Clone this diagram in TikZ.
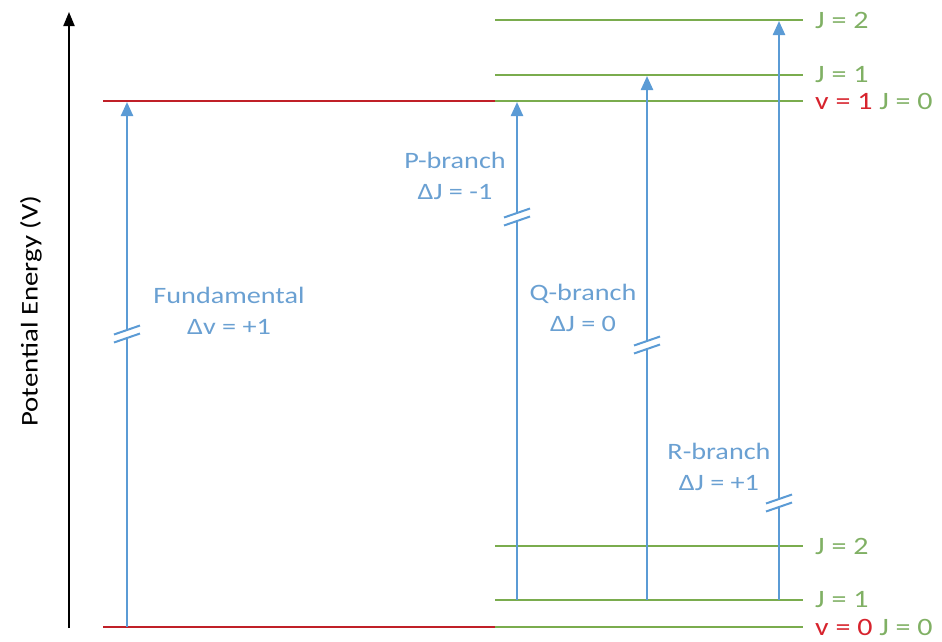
\documentclass[tikz,border=0pt]{standalone}
\usepackage{fontspec}
\setmainfont[FakeStretch=1.2]{Carlito}
\usetikzlibrary{arrows.meta,calc}
\definecolor{bl}{RGB}{91,155,213}
\definecolor{blt}{RGB}{106,160,210}
\definecolor{gr}{RGB}{122,172,78}
\definecolor{grt}{RGB}{128,176,100}
\definecolor{rd}{RGB}{192,32,40}
\definecolor{rdt}{RGB}{215,35,45}
\tikzset{
  lvlred/.style={rd, line width=2.6pt},
  lvlgreen/.style={gr, line width=2.4pt},
  trans/.style={bl, line width=2.4pt},
  transtip/.style={bl, line width=2.4pt, -{Triangle[width=12pt,length=14pt]}},
  slash/.style={bl, line width=2pt},
  lbl/.style={font=\fontsize{23.5}{31}\selectfont, text=blt, align=center, inner sep=0pt},
  jlbl/.style={font=\fontsize{25}{27}\selectfont, text=grt, anchor=west, inner sep=0pt},
}
\begin{document}
\begin{tikzpicture}[x=1pt,y=-1pt]
\useasboundingbox (0,0) rectangle (942,641);
% axis
\coordinate (ax0) at (69,628);
\coordinate (ax1) at (69,12);
\draw[line width=2pt, -{Triangle[width=11pt,length=14pt]}] (ax0) -- (ax1);
\node[rotate=90, font=\fontsize{24}{28}\selectfont, inner sep=0pt] (axl) at (31,311) {Potential Energy (V)};
% levels
\coordinate (r1a) at (103,101); \coordinate (r1b) at (495,101);
\coordinate (r0a) at (103,627); \coordinate (r0b) at (495,627);
\draw[lvlred] (r1a) -- (r1b);
\draw[lvlred] (r0a) -- (r0b);
\coordinate (g10a) at (495,101); \coordinate (g10b) at (803,101);
\coordinate (g11a) at (495,75); \coordinate (g11b) at (803,75);
\coordinate (g12a) at (495,20); \coordinate (g12b) at (803,20);
\coordinate (g00a) at (495,627); \coordinate (g00b) at (803,627);
\coordinate (g01a) at (495,600); \coordinate (g01b) at (803,600);
\coordinate (g02a) at (495,546); \coordinate (g02b) at (803,546);
\foreach \a/\b in {g10a/g10b,g11a/g11b,g12a/g12b,g00a/g00b,g01a/g01b,g02a/g02b}
  \draw[lvlgreen] (\a) -- (\b);
% level labels
\node[jlbl] (l12) at (815,20) {J = 2};
\node[jlbl] (l11) at (815,75) {J = 1};
\node[jlbl] (l10) at (815,101) {\textcolor{rdt}{v = 1} J = 0};
\node[jlbl] (l02) at (815,546) {J = 2};
\node[jlbl] (l01) at (815,600) {J = 1};
\node[jlbl] (l00) at (815,627) {\textcolor{rdt}{v = 0} J = 0};
% transitions: start, break, end
\foreach \n/\x/\ys/\yb/\ye in {f/127/627/334/101, p/517/600/217/101, q/647/600/345/75, r/779/600/503/20}{
  \coordinate (\n s) at (\x,\ys);
  \coordinate (\n e) at (\x,\ye+1);
  \coordinate (\n b) at (\x,\yb);
  \draw[trans] (\n s) -- ($(\n b)+(0,4)$);
  \draw[transtip] ($(\n b)+(0,-4)$) -- (\n e);
  \draw[slash] ($(\n b)+(-13,0.5)$) -- ($(\n b)+(13,-8.5)$);
  \draw[slash] ($(\n b)+(-13,8.5)$) -- ($(\n b)+(13,-0.5)$);
}
% labels
\node[lbl] (tf) at (229,311) {Fundamental\\Δv = +1};
\node[lbl] (tp) at (455,176) {P-branch\\ΔJ = -1};
\node[lbl] (tq) at (583,308) {Q-branch\\ΔJ = 0};
\node[lbl] (tr) at (719,467) {R-branch\\ΔJ = +1};
\end{tikzpicture}
\end{document}
